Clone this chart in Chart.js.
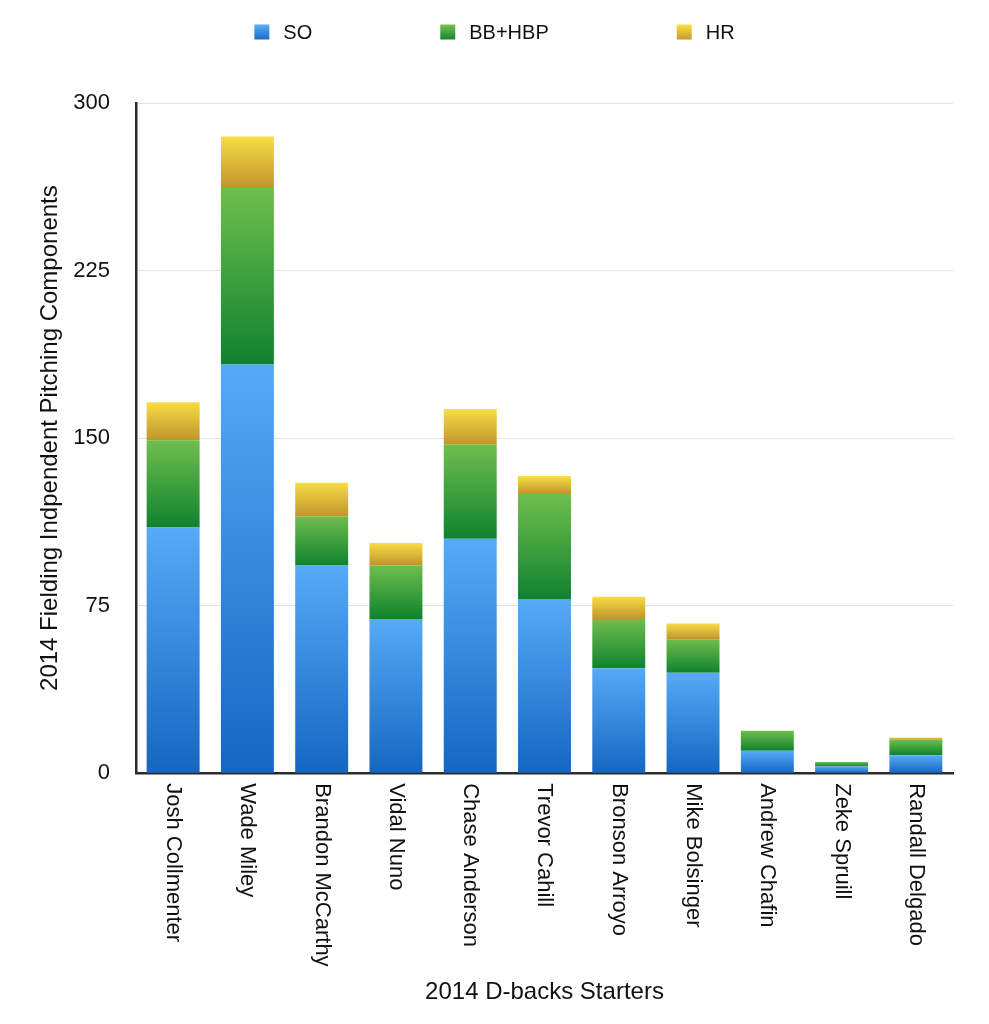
<!DOCTYPE html>
<html>
<head>
<meta charset="utf-8">
<title>2014 D-backs Starters</title>
<script src="https://cdn.jsdelivr.net/npm/chart.js@4/dist/chart.umd.min.js"></script>
<style>
    html, body { margin: 0; padding: 0; background: #fff; }
    canvas { display: block; }
</style>
</head>
<body>
<canvas id="chart1" width="989" height="1024"></canvas>
<script>
// Data
var starters = ['Josh Collmenter', 'Wade Miley', 'Brandon McCarthy', 'Vidal Nuno', 'Chase Anderson',
    'Trevor Cahill', 'Bronson Arroyo', 'Mike Bolsinger', 'Andrew Chafin', 'Zeke Spruill', 'Randall Delgado'];
var strikeouts = [110, 183, 93, 69, 105, 78, 47, 45, 10, 3, 8];
var walksHbp = [39, 79, 22, 24, 42, 47, 22, 15, 9, 2, 7];
var homeRuns = [17, 23, 15, 10, 16, 8, 10, 7, 0, 0, 1];
var yTickValues = [0, 75, 150, 225, 300];

var FONT = "'Liberation Sans', Arial, Helvetica, sans-serif";

// top / bottom colours of each segment gradient
var soColors = ['#56aaf6', '#1566c1'];
var bbColors = ['#6fbe4d', '#0f822f'];
var hrColors = ['#f7dd46', '#c0952b'];

function segmentFill(colors) {
    return function (ctx) {
        var chart = ctx.chart;
        var y = chart.scales.y;
        if (!y || ctx.type !== 'data') return colors[0];
        var start = 0;
        for (var d = 0; d < ctx.datasetIndex; d++) {
            start += chart.data.datasets[d].data[ctx.dataIndex];
        }
        var top = y.getPixelForValue(start + ctx.raw);
        var bottom = y.getPixelForValue(start);
        if (!isFinite(top) || !isFinite(bottom) || top === bottom) return colors[0];
        var g = chart.ctx.createLinearGradient(0, top, 0, bottom);
        g.addColorStop(0, colors[0]);
        g.addColorStop(1, colors[1]);
        return g;
    };
}

// category labels read top-to-bottom under each bar
var verticalLabels = {
    id: 'verticalLabels',
    afterDraw: function (chart) {
        var ctx = chart.ctx;
        var x = chart.scales.x;
        ctx.save();
        ctx.font = '22px ' + FONT;
        ctx.fillStyle = '#111';
        ctx.textAlign = 'left';
        ctx.textBaseline = 'middle';
        chart.data.labels.forEach(function (label, i) {
            ctx.save();
            ctx.translate(x.getPixelForValue(i), chart.chartArea.bottom + 10);
            ctx.rotate(Math.PI / 2);
            ctx.fillText(label, 0, 0);
            ctx.restore();
        });
        ctx.restore();
    }
};

// wide, centred legend at the top
var topLegend = {
    id: 'topLegend',
    afterDraw: function (chart) {
        var ctx = chart.ctx;
        var box = 15, gap = 14, spacing = 128, cy = 33;
        var fills = [soColors, bbColors, hrColors];
        ctx.save();
        ctx.font = '20px ' + FONT;
        var widths = chart.data.datasets.map(function (ds) { return ctx.measureText(ds.label).width; });
        var total = 0;
        widths.forEach(function (w) { total += box + gap + w; });
        total += spacing * (widths.length - 1);
        var cx = (chart.width - total) / 2;
        chart.data.datasets.forEach(function (ds, i) {
            var g = ctx.createLinearGradient(0, cy - box / 2, 0, cy + box / 2);
            g.addColorStop(0, fills[i][0]);
            g.addColorStop(1, fills[i][1]);
            ctx.fillStyle = g;
            ctx.fillRect(cx, cy - box / 2 - 1, box, box);
            ctx.fillStyle = '#111';
            ctx.textAlign = 'left';
            ctx.textBaseline = 'middle';
            ctx.fillText(ds.label, cx + box + gap, cy);
            cx += box + gap + widths[i] + spacing;
        });
        ctx.restore();
    }
};

document.addEventListener('DOMContentLoaded', function () {
    var data1 = {
        labels: starters,
        datasets: [
            { label: 'SO', data: strikeouts, backgroundColor: segmentFill(soColors) },
            { label: 'BB+HBP', data: walksHbp, backgroundColor: segmentFill(bbColors) },
            { label: 'HR', data: homeRuns, backgroundColor: segmentFill(hrColors) }
        ]
    };

    var config1 = {
        type: 'bar',
        data: data1,
        options: {
            responsive: false,
            animation: false,
            layout: { padding: { top: 103, left: 27, right: 36, bottom: 0 } },
            datasets: {
                bar: { categoryPercentage: 1, barPercentage: 0.713, borderWidth: 0 }
            },
            plugins: {
                legend: { display: false },
                tooltip: { enabled: false }
            },
            scales: {
                x: {
                    stacked: true,
                    grid: { display: false, drawTicks: false },
                    border: { display: true, color: '#2a2a2a', width: 2.5 },
                    ticks: { display: false },
                    title: {
                        display: true,
                        text: '2014 D-backs Starters',
                        color: '#111',
                        font: { family: FONT, size: 24 },
                        padding: { top: 205, bottom: 17 }
                    }
                },
                y: {
                    stacked: true,
                    min: yTickValues[0],
                    max: yTickValues[yTickValues.length - 1],
                    afterBuildTicks: function (scale) {
                        scale.ticks = yTickValues.map(function (v) { return { value: v }; });
                    },
                    afterFit: function (scale) {
                        // axis line sits at x = 136
                        scale.width = 109;
                    },
                    grid: { color: '#e2e2e2', lineWidth: 1, drawTicks: false },
                    border: { display: true, color: '#2a2a2a', width: 2.5 },
                    ticks: {
                        color: '#111',
                        padding: 26,
                        font: { family: FONT, size: 22 }
                    },
                    title: {
                        display: true,
                        text: '2014 Fielding Indpendent Pitching Components',
                        color: '#111',
                        font: { family: FONT, size: 24 },
                        padding: 9
                    }
                }
            }
        },
        plugins: [verticalLabels, topLegend]
    };

    var ctx1 = document.getElementById('chart1').getContext('2d');
    new Chart(ctx1, config1);
});
</script>
</body>
</html>
